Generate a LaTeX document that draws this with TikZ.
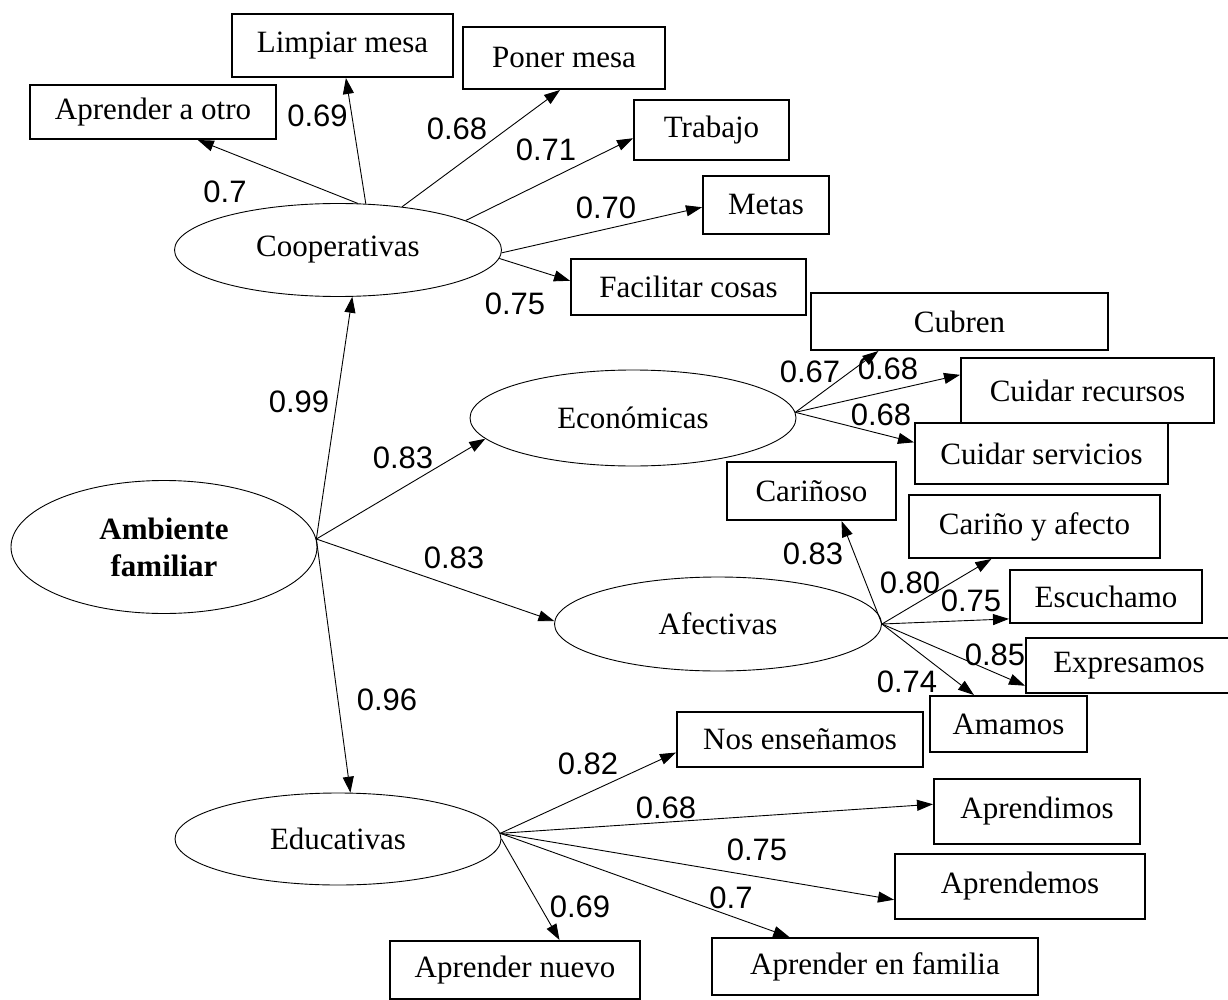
\documentclass[tikz,border=0pt]{standalone}
\usepackage{fontspec}
\setmainfont{Liberation Serif}
\newfontfamily\arialfont{Liberation Sans}
\usetikzlibrary{arrows.meta, shapes}

\begin{document}
\begin{tikzpicture}[% styles used in image code
 x = 1pt, y = -1pt,
         > = {Triangle[length=16pt, width=11pt]},
fac/.style = {ellipse, draw, line width=0.9pt, fill=white,
              inner sep=0pt, font=\fontsize{31}{37}\selectfont},
var/.style = {draw, line width=2pt, fill=white,
              inner sep=0pt, font=\fontsize{31}{37}\selectfont},
num/.style = {inner sep=0pt, font=\arialfont\fontsize{31}{37}\selectfont},
every path/.style = {line width=0.9pt}
                        ]
	\useasboundingbox (0,0) rectangle (1228,1000);

	% latent variables
	\node[fac, minimum width=306pt, minimum height=133pt, align=center,
	      font=\fontsize{31}{37}\selectfont\bfseries] (amb) at (164,547) {Ambiente\\familiar};
	\node[fac, minimum width=327pt, minimum height=93pt] (coop) at (338,250) {Cooperativas};
	\node[fac, minimum width=326pt, minimum height=96pt] (eco)  at (633,418) {Económicas};
	\node[fac, minimum width=327pt, minimum height=94pt] (afe)  at (718,624) {Afectivas};
	\node[fac, minimum width=326pt, minimum height=92pt] (edu)  at (338,839) {Educativas};

	% indicators
	\node[var, minimum width=246pt, minimum height=54pt] (otro)     at (153,112)    {Aprender a otro};
	\node[var, minimum width=221pt, minimum height=63pt] (limpiar)  at (342.5,45.5) {Limpiar mesa};
	\node[var, minimum width=202pt, minimum height=62pt] (poner)    at (564,58)     {Poner mesa};
	\node[var, minimum width=155pt, minimum height=60pt] (trabajo)  at (711.5,130)  {Trabajo};
	\node[var, minimum width=126pt, minimum height=58pt] (metas)    at (766,205)    {Metas};
	\node[var, minimum width=235pt, minimum height=56pt] (facil)    at (688.5,287)  {Facilitar cosas};

	\node[var, minimum width=297pt, minimum height=57pt] (cubren)   at (959.5,321.5)  {Cubren};
	\node[var, minimum width=253pt, minimum height=65pt] (recursos) at (1087.5,390.5) {Cuidar recursos};
	\node[var, minimum width=253pt, minimum height=61pt] (servicios) at (1041.5,453.5) {Cuidar servicios};

	\node[var, minimum width=169pt, minimum height=58pt] (carinoso) at (811.5,491)   {Cariñoso};
	\node[var, minimum width=251pt, minimum height=63pt] (afecto)   at (1034.5,526.5) {Cariño y afecto};
	\node[var, minimum width=192pt, minimum height=53pt] (escucha)  at (1106,596.5)  {Escuchamo};
	\node[var, minimum width=206pt, minimum height=55pt] (expresa)  at (1129,665.5)  {Expresamos};
	\node[var, minimum width=157pt, minimum height=56pt] (amamos)   at (1008.5,724)  {Amamos};

	\node[var, minimum width=246pt, minimum height=55pt] (ensena)   at (800,739.5)   {Nos enseñamos};
	\node[var, minimum width=206pt, minimum height=65pt] (aprendi)  at (1037,811.5)  {Aprendimos};
	\node[var, minimum width=250pt, minimum height=65pt] (aprende)  at (1020,886.5)  {Aprendemos};
	\node[var, minimum width=326pt, minimum height=57pt] (familia)  at (875,966.5)   {Aprender en familia};
	\node[var, minimum width=250pt, minimum height=58pt] (nuevo)    at (515,970)     {Aprender nuevo};

	% second order loadings
	\draw[->] (amb.3) -- (coop.-73);
	\draw[->] (amb.3) -- (eco.188.7);
	\draw[->] (amb.3) -- (afe.179);
	\draw[->] (amb.3) -- (edu.75.4);

	% first order loadings
	\draw[->] (coop.67)   -- (otro.-32);
	\draw[->] (coop.59)   -- (limpiar.-84);
	\draw[->] (coop.34.5) -- (poner.-97.6);
	\draw[->] (coop.13)   -- (trabajo.186);
	\draw[->] (coop.-1)   -- (metas.182);
	\draw[->] (coop.-3)   -- (facil.177);

	\draw[->] (eco.2) -- (cubren.200.4);
	\draw[->] (eco.2) -- (recursos.173.6);
	\draw[->] (eco.2) -- (servicios.175.3);

	\draw[->] (afe.east) -- (carinoso.-45.5);
	\draw[->] (afe.east) -- (afecto.217.2);
	\draw[->] (afe.east) -- (escucha.193.9);
	\draw[->] (afe.east) -- (expresa.191.9);
	\draw[->] (afe.east) -- (amamos.140);

	\draw[->] (edu.2.5)  -- (ensena.186.7);
	\draw[->] (edu.2.5)  -- (aprendi.176.4);
	\draw[->] (edu.2.5)  -- (aprende.186.2);
	\draw[->] (edu.2.5)  -- (familia.161.3);
	\draw[->] (edu.east) -- (nuevo.34);

	% values
	\node[num] (lcoop) at (299,402) {0.99};
	\node[num] (leco)  at (403,458) {0.83};
	\node[num] (lafe)  at (454,558) {0.83};
	\node[num] (ledu)  at (387,700) {0.96};

	\node[num] (lotro)    at (225,192) {0.7};
	\node[num] (llimpiar) at (317.5,116) {0.69};
	\node[num] (lponer)   at (457,129) {0.68};
	\node[num] (ltrabajo) at (546,150) {0.71};
	\node[num] (lmetas)   at (606,208) {0.70};
	\node[num] (lfacil)   at (515,304) {0.75};

	\node[num] (lcubren)    at (810,372) {0.67};
	\node[num] (lrecursos)  at (888,369) {0.68};
	\node[num] (lservicios) at (881,415) {0.68};

	\node[num] (lcarinoso) at (813,554) {0.83};
	\node[num] (lafecto)   at (910,583) {0.80};
	\node[num] (lescucha)  at (971,601) {0.75};
	\node[num] (lexpresa)  at (995,655) {0.85};
	\node[num] (lamamos)   at (907,682) {0.74};

	\node[num] (lensena)  at (588,764) {0.82};
	\node[num] (laprendi) at (666,808) {0.68};
	\node[num] (laprende) at (757,850) {0.75};
	\node[num] (lfamilia) at (731,898) {0.7};
	\node[num] (lnuevo)   at (580,907) {0.69};
\end{tikzpicture}
\end{document}
